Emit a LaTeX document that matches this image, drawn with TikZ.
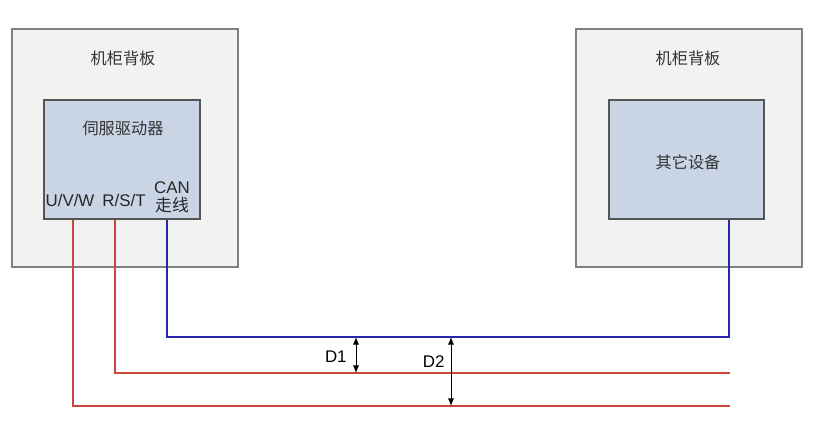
\documentclass[tikz,border=0pt]{standalone}
\usepackage{fontspec}
\setmainfont{Liberation Sans}
\newfontfamily\cjk{Noto Sans CJK SC}
\usetikzlibrary{arrows.meta}
\definecolor{panelgray}{RGB}{242,242,242}
\definecolor{panelline}{RGB}{128,128,128}
\definecolor{devblue}{RGB}{201,213,229}
\definecolor{devline}{RGB}{85,85,85}
\definecolor{pwrred}{RGB}{200,70,60}
\definecolor{canblue}{RGB}{40,40,170}
\tikzset{
  panel/.style={draw=panelline,fill=panelgray,line width=0.8pt,minimum width=5.65cm,minimum height=5.95cm},
  device/.style={draw=devline,fill=devblue,line width=0.8pt,minimum width=3.9cm,minimum height=2.975cm},
  lbl/.style={font=\cjk\fontsize{11.5}{13}\selectfont,text=black!80},
  port/.style={font=\fontsize{12}{13}\selectfont,text=black!85,inner sep=0pt},
  pwr/.style={draw=pwrred,line width=0.8pt},
  can/.style={draw=canblue,line width=0.8pt},
}

\begin{document}
\begin{tikzpicture}[x=0.025cm,y=-0.025cm,>={Latex[length=5.5pt,width=4.5pt]}]
\useasboundingbox (0,0) rectangle (814,441);

\node[panel] (cabL) at (125,148) {};
\node[panel] (cabR) at (689,148) {};
\node[device] (drv) at (122,159.5) {};
\node[device,minimum width=3.875cm] (other) at (686.5,159.5) {};

\node[lbl] (titleL) at (123,58) {机柜背板};
\node[lbl] (titleR) at (688,58) {机柜背板};
\node[lbl] (drvname) at (123,128) {伺服驱动器};
\node[lbl] (othername) at (688,162) {其它设备};

\node[port] (uvw) at (70,200) {U/V/W};
\node[port] (rst) at (124,200) {R/S/T};
\node[port,align=center] (canport) at (172,197) {CAN\\[0pt]{\cjk 走线}};

% cable ends
\coordinate (uvwend) at (730,406);
\coordinate (rstend) at (730,373);
\coordinate (d1top) at (356,337);
\coordinate (d1bot) at (356,373);
\coordinate (d2top) at (451,337);
\coordinate (d2bot) at (451,406);

\draw[pwr] (drv.south -| 73,0) |- (uvwend);
\draw[pwr] (drv.south -| 115,0) |- (rstend);
\draw[can] (drv.south -| 167,0) |- (d1top) -| (other.south -| 729,0);

\draw[<->,line width=0.7pt,font=\fontsize{12}{13}\selectfont] (d1top) -- (d1bot) node[left=3pt,pos=.55]{D1};
\draw[<->,line width=0.7pt,font=\fontsize{12}{13}\selectfont] (d2top) -- (d2bot) node[left=1pt,pos=.36]{D2};

\end{tikzpicture}
\end{document}
